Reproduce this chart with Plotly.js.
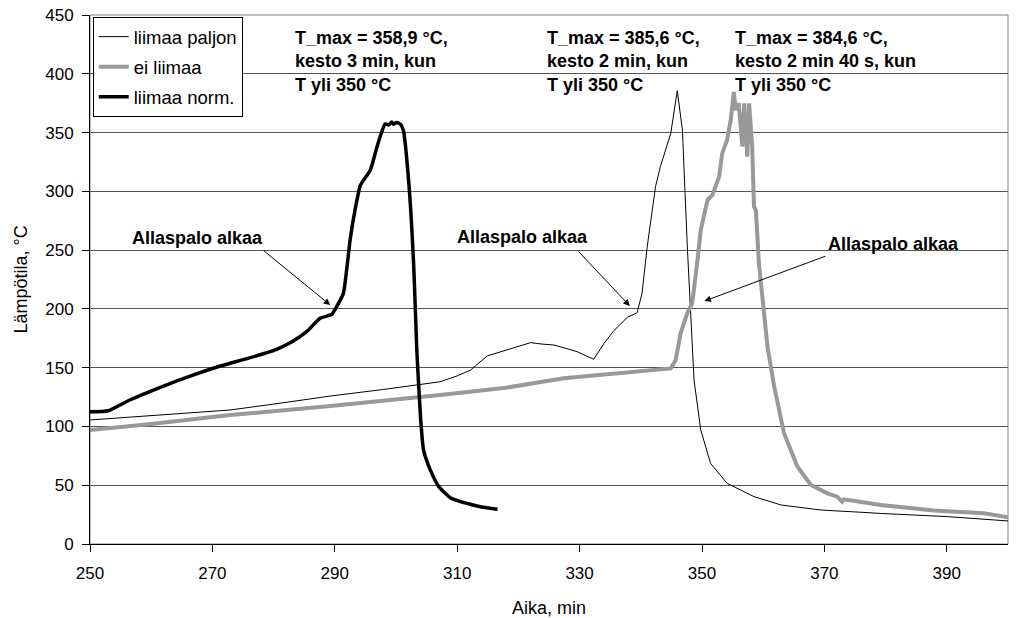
<!DOCTYPE html>
<html>
<head>
<meta charset="utf-8">
<script src="https://cdn.plot.ly/plotly-3.0.1.min.js"></script>
<style>html,body{margin:0;padding:0;background:#fff;}#chart{width:1018px;height:618px;}</style>
</head>
<body>
<div id="chart"></div>
<script>
// liimaa paljon (thin black)
const paljonX = [250, 260, 272.9, 280, 289.3, 298, 307.2, 310, 312.2, 314.9, 318.2, 322, 324, 325.8, 329.6, 332.3, 334, 335.6, 337.8, 339.4, 340.2, 341.05, 342.4, 343.2, 344.9, 345.96, 346.8, 347.6, 348.7, 349.8, 351.4, 354.1, 358.5, 362.9, 369.4, 371.6, 376, 379.2, 390.1, 400];
const paljonY = [105.5, 109, 114, 119, 125.9, 131.5, 138, 143, 148, 160, 165, 171.3, 170, 169.3, 163.6, 157.1, 170.7, 181.5, 192.8, 196.8, 213.3, 252.9, 303.9, 321, 349.4, 385.6, 352.2, 252.9, 139.5, 97, 68.6, 51.6, 40.3, 33.2, 28.9, 28.4, 27, 26, 23.3, 19.6];
// ei liimaa (grey)
const eiX = [250, 260, 272.9, 289.3, 307.2, 318, 327.4, 336.7, 344.9, 345.7, 346.5, 347.6, 348.4, 349.2, 349.8, 350.9, 351.7, 352.8, 353.3, 354.1, 354.7, 355.2, 355.5, 356.0, 356.6, 356.9, 357.4, 357.7, 358.2, 358.5, 358.8, 359.3, 360.7, 361.8, 363.4, 365.6, 367.8, 370.5, 372.1, 372.9, 373.2, 379.2, 387.9, 396.1, 400];
const eiY = [97, 102, 109.7, 117.4, 126.7, 133, 141, 145.2, 149.4, 156.5, 179.2, 196.3, 204.8, 238.8, 267.1, 292.6, 296.9, 312.5, 332.3, 343.7, 360.7, 384.6, 369.2, 374.9, 338, 374.9, 329.5, 374.9, 338, 287, 284.1, 238.8, 167.9, 133.8, 94.2, 65.8, 50.2, 43.1, 40.3, 36, 38, 33.2, 28.4, 26.1, 22.7];
// liimaa norm. (thick black)
const normX = [250, 253, 256.5, 262, 265.8, 271.3, 276.2, 280.5, 283, 285.4, 287.6, 289.5, 290.3, 291.4, 292, 292.5, 293.3, 294.2, 295.8, 296.9, 297.6, 298.2, 298.8, 299.3, 299.6, 300.1, 300.7, 301.2, 302.1, 302.9, 303.4, 304, 304.5, 305.6, 307, 309, 312, 314, 316.6];
const normY = [112.5, 113.4, 122.5, 134.4, 141.8, 151.4, 158.5, 165.6, 172, 180.6, 192, 195.4, 201.9, 213.2, 235.9, 258.6, 284, 305.4, 318, 338, 349.4, 357.3, 356.5, 358.9, 357, 358.6, 357.3, 352, 306.8, 235.9, 165, 108.3, 80, 63, 48.8, 39, 34, 31.5, 29.5];

const seriesNames = ['liimaa paljon', 'ei liimaa', 'liimaa norm.'];
const xTicks = [250, 270, 290, 310, 330, 350, 370, 390];
const yTicks = [0, 50, 100, 150, 200, 250, 300, 350, 400, 450];

const infoTexts = [
  'T_max = 358,9 °C,<br>kesto 3 min, kun<br>T yli 350 °C',
  'T_max = 385,6 °C,<br>kesto 2 min, kun<br>T yli 350 °C',
  'T_max = 384,6 °C,<br>kesto 2 min 40 s, kun<br>T yli 350 °C'
];
const infoX = [283.2, 324.4, 355.0];
const infoY = 441;
const startLabel = 'Allaspalo alkaa';
const labelPos = [[267.6, 260], [320.6, 261.4], [381.3, 255]];
const arrowTail = [[278.1, 250.7], [329.6, 250.1], [370.4, 245.3]];
const arrowHead = [[289.25, 203.3], [338.2, 202.5], [350.4, 206.7]];

const FONT = 'Arial, "Liberation Sans", sans-serif';

const traces = [
  {x: paljonX, y: paljonY, name: seriesNames[0], mode: 'lines', line: {color: '#000000', width: 1}, legendgroup: 'a', legendrank: 1},
  {x: eiX, y: eiY, name: seriesNames[1], mode: 'lines', line: {color: '#999999', width: 4}, legendgroup: 'b', legendrank: 2},
  {x: normX, y: normY, name: seriesNames[2], mode: 'lines', line: {color: '#000000', width: 3.5, shape: 'spline', smoothing: 0.5}, legendgroup: 'c', legendrank: 3}
];

const annotations = [];
infoTexts.forEach((t, i) => annotations.push({
  x: infoX[i], y: infoY, xref: 'x', yref: 'y', text: '<b>' + t + '</b>', showarrow: false,
  xanchor: 'left', yanchor: 'top', align: 'left', font: {family: FONT, size: 18, color: '#000'}
}));
labelPos.forEach((p, i) => {
  annotations.push({x: p[0], y: p[1], xref: 'x', yref: 'y', text: '<b>' + startLabel + '</b>', showarrow: false,
    xanchor: 'center', yanchor: 'middle', font: {family: FONT, size: 18, color: '#000'}});
  annotations.push({x: arrowHead[i][0], y: arrowHead[i][1], ax: arrowTail[i][0], ay: arrowTail[i][1],
    xref: 'x', yref: 'y', axref: 'x', ayref: 'y', text: '', showarrow: true,
    arrowhead: 2, arrowsize: 1.3, arrowwidth: 1, arrowcolor: '#000'});
});

const layout = {
  width: 1018, height: 618,
  margin: {l: 90, r: 10, t: 15, b: 74},
  paper_bgcolor: '#fff', plot_bgcolor: '#fff',
  font: {family: FONT, size: 17, color: '#000'},
  showlegend: true,
  legend: {x: 0.003, y: 0.996, xanchor: 'left', yanchor: 'top', bgcolor: '#fff',
    bordercolor: '#000', borderwidth: 1, font: {family: FONT, size: 18.5, color: '#000'},
    tracegroupgap: 3, traceorder: 'grouped'},
  xaxis: {range: [250, 400], tickvals: xTicks, ticktext: xTicks.map(String), ticks: 'outside', ticklen: 7,
    tickcolor: '#000', showgrid: false, zeroline: false, showline: true, linecolor: '#000', linewidth: 1,
    ticklabelstandoff: 7,
    title: {text: 'Aika, min', font: {family: FONT, size: 18}, standoff: 18},
    tickfont: {family: FONT, size: 17}},
  yaxis: {range: [0, 450], tickvals: yTicks, ticktext: yTicks.map(String), ticks: 'outside', ticklen: 7,
    tickcolor: '#000', showgrid: true, gridcolor: '#555555', gridwidth: 1, zeroline: false,
    showline: true, linecolor: '#000', linewidth: 1, ticklabelstandoff: 5,
    title: {text: 'Lämpötila, °C', font: {family: FONT, size: 18}, standoff: 12},
    tickfont: {family: FONT, size: 17}},
  shapes: [{type: 'rect', xref: 'paper', yref: 'paper', x0: 0, x1: 1, y0: 0, y1: 1,
    line: {color: '#808080', width: 1}, layer: 'below'}],
  annotations: annotations
};

Plotly.newPlot('chart', traces, layout, {displayModeBar: false, staticPlot: true});
</script>
</body>
</html>
